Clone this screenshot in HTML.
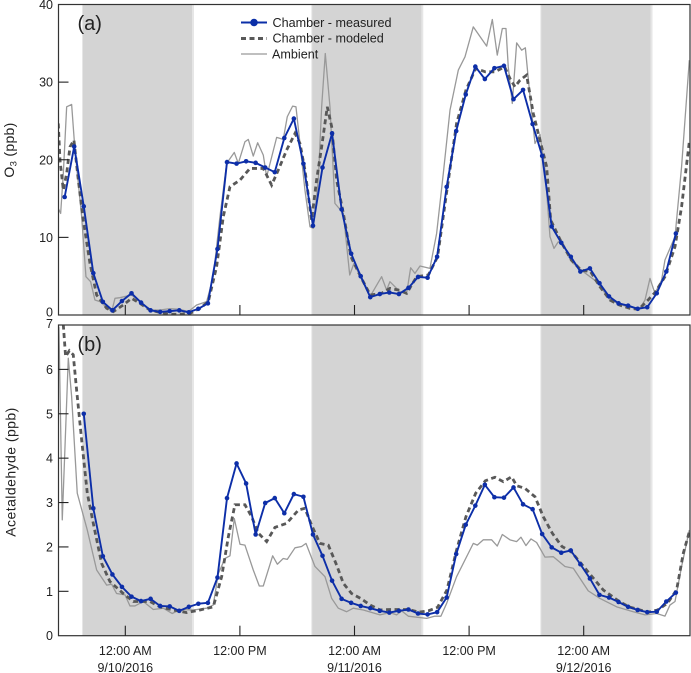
<!DOCTYPE html>
<html>
<head>
<meta charset="utf-8">
<title>O3 and Acetaldehyde chamber chart</title>
<style>
html,body{margin:0;padding:0;background:#fff;}
svg{display:block;font-family:"Liberation Sans",sans-serif;}
text{fill:#222;}
</style>
</head>
<body>
<svg id="chart" xmlns="http://www.w3.org/2000/svg" width="691" height="673" viewBox="0 0 691 673">
<defs>
<clipPath id="clip-a"><rect x="58.5" y="4.5" width="631.5" height="310.5"/></clipPath>
<clipPath id="clip-b"><rect x="58.5" y="325" width="631.5" height="310.7"/></clipPath>
<filter id="soft" x="-5%" y="-5%" width="110%" height="110%"><feGaussianBlur stdDeviation="0.35"/></filter>
</defs>
<g id="panel-a"></g>
<g id="panel-b"></g>
<text x="77.5" y="30" font-size="20">(a)</text>
<text x="77.5" y="351" font-size="20">(b)</text>
<text transform="translate(14,150) rotate(-90)" text-anchor="middle" font-size="14" letter-spacing="0.3">O<tspan font-size="9.5" dy="2.5">3</tspan><tspan dy="-2.5"> (ppb)</tspan></text>
<text transform="translate(15.5,472) rotate(-90)" text-anchor="middle" font-size="14" letter-spacing="0.45">Acetaldehyde (ppb)</text>
<g>
<g>
<line x1="241" y1="22.5" x2="267" y2="22.5" stroke="#0b2fa8" stroke-width="2"/>
<circle cx="254" cy="22.5" r="3.8" fill="#0b2fa8"/>
<text x="272.5" y="27" font-size="12.6">Chamber - measured</text>
</g>
<g>
<line x1="241" y1="38.5" x2="267" y2="38.5" stroke="#595959" stroke-width="3" stroke-dasharray="5 3.5"/>
<text x="272.5" y="42.5" font-size="12.6">Chamber - modeled</text>
</g>
<g>
<line x1="241" y1="54" x2="267" y2="54" stroke="#999" stroke-width="1.3"/>
<text x="272" y="58.5" font-size="12.6">Ambient</text>
</g>
</g>
</svg>
<script>
// Time axis: hours relative to 12:00 AM on 9/10/2016
const nightStart = [-4.43, 19.58, 43.56];
const nightEnd = [7.09, 31.1, 55.1];
const xTickHours = [0, 12, 24, 36, 48];
const xTickTime = ['12:00 AM', '12:00 PM', '12:00 AM', '12:00 PM', '12:00 AM'];
const xTickDate = ['9/10/2016', '', '9/11/2016', '', '9/12/2016'];
const o3Ticks = [0, 10, 20, 30, 40];
const acetTicks = [0, 1, 2, 3, 4, 5, 6, 7];

// Panel (a) O3, ppb
const o3MeasuredFirstHour = -6.35;
const o3Measured = [15.2,21.7,14.0,5.4,1.7,0.6,1.8,2.8,1.6,0.6,0.4,0.5,0.6,0.35,0.8,1.5,8.5,19.7,19.5,19.8,19.6,19.0,18.4,22.8,25.3,19.5,11.5,19.0,23.4,13.6,7.9,5.0,2.3,2.7,2.9,2.7,3.5,4.9,4.8,7.5,16.5,23.7,28.4,32.0,30.4,31.8,32.1,27.8,29.0,24.6,20.5,11.4,9.3,7.5,5.6,6.0,4.1,2.4,1.5,1.2,0.8,1.0,2.8,5.6,10.5];
const o3AmbientHours = [-7.02,-6.77,-6.49,-6.14,-5.62,-5.27,-4.57,-4.12,-3.63,-3.18,-2.65,-1.43,-1.08,-0.56,0.66,1.54,2.58,3.63,4.68,5.72,6.6,7.47,8.52,9.21,9.91,10.61,11.41,11.83,12.53,12.88,13.4,13.86,14.45,14.8,15.85,16.54,16.96,17.52,17.87,18.29,18.81,19.34,19.69,20.21,20.56,20.94,21.43,21.95,22.83,23.5,23.94,25.62,26.84,27.36,27.71,28.76,29.46,29.88,30.33,30.86,31.9,32.6,33.3,34,34.87,35.57,36.44,37.84,38.43,38.95,39.48,39.86,40.1,40.52,40.98,41.5,41.89,42.38,42.9,43.42,43.95,44.47,44.89,45.34,45.86,46.91,47.96,49.36,50.75,52.5,53.89,54.42,54.94,55.46,56.16,56.51,57.56,58.25,59.06];
const o3Ambient = [13.73,13.09,18.24,26.82,27.12,21.24,12.66,4.94,4.29,1.93,1.72,0.43,2.15,2.23,2.58,1.72,0.64,0.64,0.82,0.73,0.43,1.29,1.72,4.94,12.66,19.53,20.94,19.53,22.32,22.62,20.47,22.19,20.6,17.81,22.88,22.62,25.54,26.91,26.82,22.1,16.09,11.37,11.16,17.38,26.82,33.69,26.82,14.38,13.09,5.15,6.65,2.36,4.94,3.22,4.29,3.0,2.79,6.09,5.36,6.31,6.01,10.52,18.24,26.39,31.55,33.26,37.12,34.64,38.07,33.48,36.91,36.91,31.97,27.25,35.06,34.12,34.42,28.11,22.1,23.26,18.67,10.09,8.58,9.44,9.01,6.65,5.58,4.29,1.93,1.07,0.86,1.93,4.72,2.79,4.51,7.08,10.09,19.1,32.83];
const o3ModeledHours = [-7.02,-6.84,-6.49,-6.14,-5.79,-5.38,-4.92,-4.4,-3.7,-3.0,-1.95,-1.26,-0.21,0.66,1.54,2.58,3.63,4.68,5.72,6.77,7.82,8.69,9.56,10.26,10.96,12.01,13.05,14.45,15.32,16.02,16.89,17.77,18.29,18.81,19.51,20.03,20.56,21.15,21.61,22.13,22.83,23.63,24.64,25.65,26.84,27.71,28.59,29.46,30.51,31.73,32.7,33.68,34.69,35.67,36.69,37.7,38.71,39.72,40.28,40.8,41.33,42.02,42.72,43.42,44.12,44.54,45.72,46.7,47.71,48.72,49.7,50.75,51.73,52.84,53.75,54.74,55.46,56.51,57.56,58.25,59.06];
const o3Modeled = [24.68,19.96,16.09,18.24,21.67,22.53,17.38,12.23,6.65,2.58,0.86,0.43,1.29,2.15,1.5,0.64,0.34,0.1,0.1,0.21,0.86,1.72,6.22,12.66,16.52,17.38,18.88,18.88,16.74,18.67,21.24,23.39,22.1,18.67,12.23,17.38,21.67,26.82,24.25,17.38,13.09,7.51,4.94,2.58,2.79,3.43,3.22,2.79,4.94,5.15,7.51,16.09,24.68,28.97,31.76,31.33,31.33,31.97,30.47,29.4,30.26,30.9,25.97,22.53,19.1,12.23,9.23,7.08,5.79,5.58,3.65,1.93,1.29,0.86,0.73,1.93,2.88,4.94,8.8,13.95,22.32];

// Panel (b) Acetaldehyde, ppb
const acetMeasuredFirstHour = -4.35;
const acetMeasured = [5.0,2.87,1.79,1.38,1.10,0.88,0.78,0.83,0.67,0.66,0.56,0.65,0.72,0.74,1.31,3.10,3.88,3.43,2.28,2.99,3.10,2.76,3.19,3.13,2.28,1.80,1.24,0.83,0.74,0.67,0.62,0.56,0.52,0.56,0.59,0.5,0.48,0.53,0.86,1.84,2.5,2.93,3.4,3.12,3.11,3.34,2.96,2.85,2.29,1.99,1.87,1.92,1.61,1.29,0.92,0.86,0.76,0.65,0.58,0.53,0.54,0.77,0.97];
const acetAmbientHours = [-6.95,-6.6,-5.97,-5.62,-5.03,-3.98,-3.0,-1.95,-1.43,-0.91,-0.03,0.49,1.01,1.88,2.93,3.98,4.92,5.72,7.12,8.52,9.21,9.74,10.44,10.96,11.41,12.01,12.53,13.4,14.03,14.45,15.43,15.92,16.54,16.96,17.77,18.46,18.92,19.86,20.91,21.61,22.3,23.18,23.87,24.92,26.67,27.71,28.41,28.94,29.63,31.55,32.42,33.05,33.65,34.69,36.44,36.86,37.48,38.36,38.95,39.48,40.28,40.98,41.43,41.95,42.48,43.07,43.95,44.82,46.04,46.91,48.48,49.7,51.45,53.19,54.42,55.64,56.51,57.03,57.56,58.25,59.06];
const acetAmbient = [6.96,2.61,6.25,5.39,3.21,2.38,1.48,1.14,1.16,0.95,0.92,0.67,0.67,0.77,0.59,0.62,0.5,0.59,0.58,0.62,0.69,1.4,1.74,1.8,2.64,2.06,2.04,1.48,1.12,1.12,1.8,1.61,1.74,1.72,1.98,2.01,2.08,1.56,1.33,0.84,0.62,0.54,0.62,0.58,0.47,0.52,0.47,0.56,0.44,0.39,0.44,0.44,0.73,1.33,2.08,2.04,2.16,2.16,2.02,2.28,2.16,2.12,2.22,2.03,2.18,2.1,1.77,1.78,1.56,1.52,1.01,0.84,0.65,0.54,0.47,0.5,0.44,0.69,0.77,1.56,2.38];
const acetModeledHours = [-6.6,-6.49,-6.25,-5.86,-5.45,-5.1,-4.57,-3.98,-3.35,-2.48,-1.61,-0.21,0.84,2.58,3.63,5.03,6.42,7.82,9.21,10.09,10.79,11.48,12.53,13.23,13.93,14.8,15.67,16.89,18.12,18.81,19.51,20.38,21.26,22.13,22.83,23.7,24.64,25.65,26.67,27.71,28.69,29.7,30.72,31.73,32.7,33.68,34.69,35.67,36.69,37.7,38.71,39.58,40.45,40.98,41.85,42.9,43.77,44.71,45.72,46.7,47.71,48.72,50.05,51.73,52.74,54.74,55.75,56.76,57.73,58.43,59.06];
const acetModeled = [7.2,7.0,6.29,6.42,6.33,5.54,4.41,3.21,2.53,1.63,1.22,0.95,0.77,0.77,0.65,0.58,0.52,0.58,0.65,1.33,2.23,2.95,2.95,2.68,2.31,2.12,2.44,2.53,2.83,2.87,2.49,2.08,2.04,1.59,1.18,0.95,0.84,0.69,0.58,0.59,0.59,0.59,0.53,0.56,0.64,1.03,1.93,2.68,3.21,3.49,3.57,3.47,3.58,3.38,3.32,3.13,2.68,2.31,2.01,1.89,1.63,1.37,1.03,0.77,0.65,0.53,0.58,0.73,1.03,1.86,2.34];

const NS = 'http://www.w3.org/2000/svg';
const xAxis = function (h) { return 125.3 + 9.55 * h; };
const plotLeft = 58.5, plotRight = 690;

function make(parent, tag, attrs) {
  const el = document.createElementNS(NS, tag);
  for (const k in attrs) el.setAttribute(k, attrs[k]);
  parent.appendChild(el);
  return el;
}
function pathFrom(hours, values, yAxis) {
  return values.map(function (v, i) {
    return (i ? 'L' : 'M') + xAxis(hours[i]).toFixed(2) + ' ' + yAxis(v).toFixed(2);
  }).join('');
}
function hourly(first, values) {
  return values.map(function (v, i) { return first + i; });
}

function drawPanel(cfg) {
  const g = document.getElementById(cfg.id);
  const top = cfg.top, bottom = cfg.bottom, yMax = cfg.yMax;
  const yAxis = function (v) { return bottom - (bottom - top) * v / yMax; };

  nightStart.forEach(function (s, i) {
    const x0 = xAxis(s), x1 = xAxis(nightEnd[i]);
    const edge = make(g, 'rect', {x: x0 - 1, y: top, width: x1 - x0 + 2, height: bottom - top, fill: '#e6e6e6'});
    
    
    const band = make(g, 'rect', {x: x0, y: top, width: x1 - x0 - 1, height: bottom - top, fill: '#d4d4d4'});
    
    
  });

  const clip = make(g, 'g', {'clip-path': 'url(#' + cfg.clip + ')'});
  
  
  const soft = make(clip, 'g', {filter: 'url(#soft)'});
  
  

  const amb = make(soft, 'path', {d: pathFrom(cfg.ambientHours, cfg.ambient, yAxis), fill: 'none', stroke: '#999', 'stroke-width': 1.3, 'stroke-linejoin': 'round'});
  
  

  const mod = make(soft, 'path', {d: pathFrom(cfg.modeledHours, cfg.modeled, yAxis), fill: 'none', stroke: '#595959', 'stroke-width': 2.8, 'stroke-dasharray': '5 3.5'});
  
  

  const hrs = hourly(cfg.measuredFirst, cfg.measured);
  const mea = make(soft, 'path', {d: pathFrom(hrs, cfg.measured, yAxis), fill: 'none', stroke: '#0b2fa8', 'stroke-width': 1.9, 'stroke-linejoin': 'round'});
  
  

  cfg.measured.forEach(function (v, i) {
    const c = make(soft, 'circle', {cx: xAxis(hrs[i]), cy: yAxis(v), r: 2.3, fill: '#0b2fa8'});
    
    
  });

  const frame = make(g, 'rect', {x: plotLeft, y: top, width: plotRight - plotLeft, height: bottom - top, fill: 'none', stroke: '#333', 'stroke-width': 1.2});
  
  

  cfg.ticks.forEach(function (t) {
    const y = yAxis(t);
    if (t > 0 && t < yMax) {
      const tick = make(g, 'line', {x1: plotLeft, x2: plotLeft + 10, y1: y, y2: y, stroke: '#222', 'stroke-width': 1.1});
      
      
    }
    const lab = make(g, 'text', {x: 53, y: y + cfg.labelShift(t), 'text-anchor': 'end', 'font-size': 12.5});
    
    
    lab.textContent = t;
  });

  xTickHours.forEach(function (h, i) {
    const x = xAxis(h);
    const tick = make(g, 'line', {x1: x, x2: x, y1: bottom, y2: bottom - 10, stroke: '#222', 'stroke-width': 1.1});
    
    
    if (cfg.showXLabels) {
      const a = make(g, 'text', {x: x, y: bottom + 19.5, 'text-anchor': 'middle', 'font-size': 12.5});
      
      
      a.textContent = xTickTime[i];
      if (xTickDate[i]) {
        const b = make(g, 'text', {x: x, y: bottom + 36.5, 'text-anchor': 'middle', 'font-size': 12.5});
        
        
        b.textContent = xTickDate[i];
      }
    }
  });
}

drawPanel({
  id: 'panel-a', clip: 'clip-a', top: 4.5, bottom: 315, yMax: 40, ticks: o3Ticks,
  labelShift: function (t) { return t === 0 ? 1.5 : 4.5; },
  measuredFirst: o3MeasuredFirstHour, measured: o3Measured,
  ambientHours: o3AmbientHours, ambient: o3Ambient,
  modeledHours: o3ModeledHours, modeled: o3Modeled,
  showXLabels: false
});
drawPanel({
  id: 'panel-b', clip: 'clip-b', top: 325, bottom: 635.7, yMax: 7, ticks: acetTicks,
  labelShift: function (t) { return t === 7 ? 3 : 4.5; },
  measuredFirst: acetMeasuredFirstHour, measured: acetMeasured,
  ambientHours: acetAmbientHours, ambient: acetAmbient,
  modeledHours: acetModeledHours, modeled: acetModeled,
  showXLabels: true
});
</script>
</body>
</html>
